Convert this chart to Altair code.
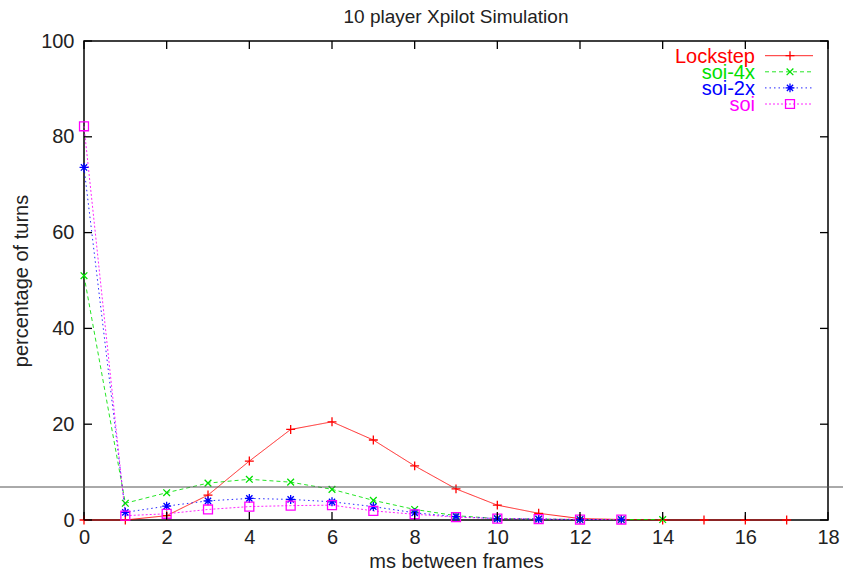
import altair as alt
import pandas as pd

# ---- data ----
series_names = ["Lockstep", "soi-4x", "soi-2x", "soi"]
series_colors = ["#ff0000", "#00e000", "#0000ff", "#ff00ff"]

lock_x = list(range(0, 18))
lock_y = [0, 0, 0.9, 5.2, 12.3, 18.9, 20.5, 16.7, 11.3, 6.5, 3.1, 1.4, 0.3, 0.1, 0, 0, 0, 0]

soi4_x = list(range(0, 15))
soi4_y = [51.0, 3.5, 5.7, 7.7, 8.5, 7.9, 6.4, 4.1, 2.2, 0.9, 0.3, 0.2, 0.1, 0.1, 0.1]

soi2_x = list(range(0, 14))
soi2_y = [73.6, 1.6, 2.9, 4.0, 4.5, 4.3, 3.8, 2.8, 1.5, 0.7, 0.3, 0.2, 0.1, 0.1]

soi_x = list(range(0, 14))
soi_y = [82.2, 0.9, 1.3, 2.2, 2.8, 3.0, 3.1, 1.9, 1.2, 0.6, 0.3, 0.2, 0.1, 0.1]

x_ticks = [0, 2, 4, 6, 8, 10, 12, 14, 16, 18]
y_ticks = [0, 20, 40, 60, 80, 100]

# ---- styles ----
dashes = [[1, 0], [4, 3], [1.5, 3], [2, 2]]
shapes = [
    "M-1,0L1,0M0,-1L0,1",
    "M-0.75,-0.75L0.75,0.75M-0.75,0.75L0.75,-0.75",
    "M-1,0L1,0M0,-1L0,1M-0.7,-0.7L0.7,0.7M-0.7,0.7L0.7,-0.7",
    "square",
]
FONT = "Liberation Sans"
W, H = 744, 479

rows = []
for name, xs, ys in [("Lockstep", lock_x, lock_y), ("soi-4x", soi4_x, soi4_y),
                     ("soi-2x", soi2_x, soi2_y), ("soi", soi_x, soi_y)]:
    for a, b in zip(xs, ys):
        rows.append({"series": name, "x": a, "y": b})
df = pd.DataFrame(rows)

color_enc = alt.Color("series:N", scale=alt.Scale(domain=series_names, range=series_colors), legend=None)
dash_enc = alt.StrokeDash("series:N", scale=alt.Scale(domain=series_names, range=dashes), legend=None)
shape_enc = alt.Shape("series:N", scale=alt.Scale(domain=series_names, range=shapes), legend=None)

xscale = alt.Scale(domain=[0, 18], nice=False, zero=False)
yscale = alt.Scale(domain=[0, 100], nice=False)
xaxis = alt.Axis(values=x_ticks, title="ms between frames", labelPadding=7, titlePadding=4, labelFlush=False)
yaxis = alt.Axis(values=y_ticks, title="percentage of turns", labelPadding=10, titlePadding=9, labelFlush=False)
X = alt.X("x:Q", scale=xscale, axis=xaxis, title="ms between frames")
Y = alt.Y("y:Q", scale=yscale, axis=yaxis, title="percentage of turns")

lines = alt.Chart(df).mark_line(strokeWidth=1, opacity=0.85).encode(
    x=X, y=Y, color=color_enc, strokeDash=dash_enc, detail="series:N",
)

points = alt.Chart(df).mark_point(filled=False, strokeWidth=1.3, size=80, opacity=1).encode(
    x=X, y=Y, color=color_enc, shape=shape_enc,
)

xt = pd.DataFrame({"x": x_ticks})
yt = pd.DataFrame({"y": y_ticks})
tick_style = dict(color="black", strokeWidth=1.3)
tick_bottom = alt.Chart(xt).mark_rule(**tick_style).encode(
    x=X, y=alt.value(H), y2=alt.value(H - 8))
tick_top = alt.Chart(xt).mark_rule(**tick_style).encode(
    x=X, y=alt.value(0), y2=alt.value(8))
tick_left = alt.Chart(yt).mark_rule(**tick_style).encode(
    y=Y, x=alt.value(0), x2=alt.value(8))
tick_right = alt.Chart(yt).mark_rule(**tick_style).encode(
    y=Y, x=alt.value(W), x2=alt.value(W - 8))

# thin horizontal line across the picture, as in the reference image
artifact = alt.Chart(pd.DataFrame({"k": [0]})).mark_rule(color="#555555", strokeWidth=1).encode(
    x=alt.value(-84), x2=alt.value(759), y=alt.value(446))

main = alt.layer(lines, points, tick_bottom, tick_top, tick_left, tick_right, artifact)

# ---- gnuplot-style key ----
key_df = pd.DataFrame({"series": series_names, "row": [0, 1, 2, 3]})
key_y = alt.Y("row:Q", scale=alt.Scale(domain=[0, 1], range=[14.7, 30.8]), axis=None)
key_text = alt.Chart(key_df).mark_text(align="right", baseline="middle", fontSize=20, font=FONT, dy=1).encode(
    x=alt.value(671), y=key_y, text="series:N", color=color_enc)
key_line = alt.Chart(key_df).mark_rule(strokeWidth=1, opacity=0.85).encode(
    x=alt.value(681), x2=alt.value(729), y=key_y, color=color_enc, strokeDash=dash_enc)
key_pts = alt.Chart(key_df).mark_point(filled=False, strokeWidth=1.3, size=80, opacity=1).encode(
    x=alt.value(706), y=key_y, color=color_enc, shape=shape_enc)
key = alt.layer(key_line, key_pts, key_text)

chart = alt.layer(main, key).resolve_scale(y="independent").properties(
    width=W, height=H,
    title=alt.TitleParams("10 player Xpilot Simulation", fontSize=19, fontWeight="normal",
                          font=FONT, color="#222222", offset=4),
    autosize=alt.AutoSizeParams(type="none"),
    padding={"left": 84, "top": 41, "right": 15, "bottom": 54},
).configure_view(
    stroke="black", strokeWidth=1.5
).configure_axis(
    domain=False, ticks=False, grid=False,
    labelFont=FONT, labelFontSize=20, labelColor="#222222",
    titleFont=FONT, titleFontSize=20, titleFontWeight="normal", titleColor="#222222",
)

chart.save("out.html", embed_options={"renderer": "svg", "actions": False})
